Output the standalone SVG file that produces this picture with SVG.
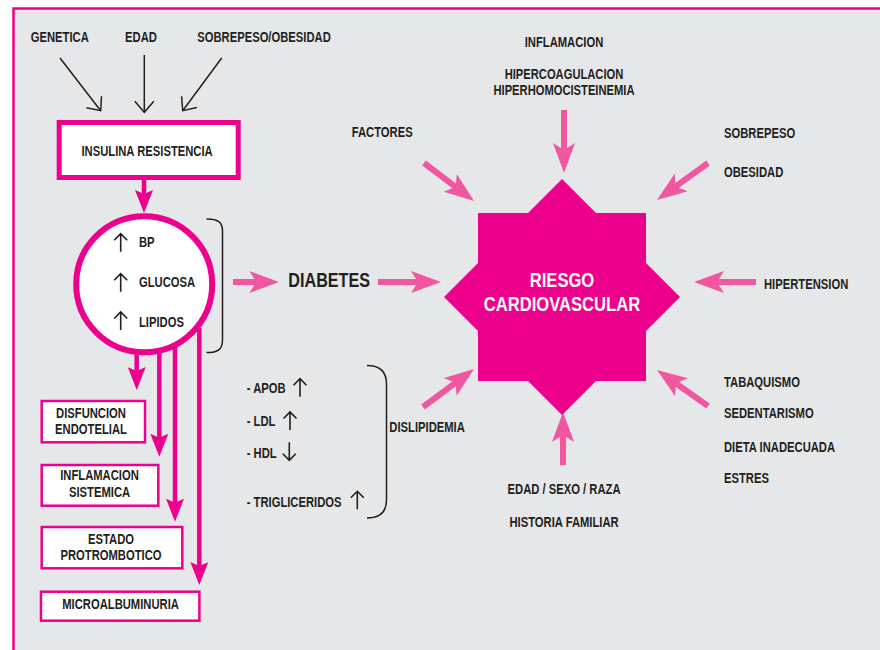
<svg xmlns="http://www.w3.org/2000/svg" width="880" height="650" viewBox="0 0 880 650">
<defs>
<style>
text{font-family:"Liberation Sans Narrow","Arial Narrow","Liberation Sans",sans-serif;font-weight:bold;font-size:14.5px;fill:#231f20;transform-box:fill-box;transform-origin:0% 50%;transform:scaleX(0.775)}
.c{text-anchor:middle;transform-origin:50% 50%}
.s{font-size:14px;transform:scaleX(0.8)}
.big{font-size:19.5px;transform:scaleX(0.83)}
.w{fill:#ffffff;font-size:20px;transform:scaleX(0.83)}
.box{fill:#ffffff;stroke:#ec008c;stroke-width:2.5}
.pk{stroke:#f0579f;stroke-width:6;fill:none}
.mg{stroke:#ec008c;stroke-width:4.5;fill:none}
.bk{stroke:#231f20;stroke-width:1.5;fill:none}
.gl{stroke:#231f20;stroke-width:1.6;fill:none}
</style>
<marker id="hp" markerUnits="userSpaceOnUse" markerWidth="30" markerHeight="22" viewBox="-30 -11 30 22" refX="-22" refY="0" orient="auto"><path d="M0,0 L-30,-11 L-23,0 L-30,11 Z" fill="#f0579f"/></marker>
<marker id="hm" markerUnits="userSpaceOnUse" markerWidth="23" markerHeight="18" viewBox="-23 -9 23 18" refX="-17" refY="0" orient="auto"><path d="M0,0 L-23,-9 L-19,0 L-23,9 Z" fill="#ec008c"/></marker>
<marker id="hb" markerUnits="userSpaceOnUse" markerWidth="14" markerHeight="22" viewBox="-13 -11 14 22" refX="0" refY="0" orient="auto" overflow="visible"><path d="M-11,-9.5 L0,0 L-11,9.5" fill="none" stroke="#231f20" stroke-width="1.5"/></marker>
<path id="up" d="M0,0 V-18 M-6.5,-11.5 L0,-18 L6.5,-11.5" class="gl"/>
<path id="dn" d="M0,0 V18 M-6.5,11.5 L0,18 L6.5,11.5" class="gl"/>
</defs>
<rect x="0" y="0" width="880" height="650" fill="#ffffff"/>
<rect id="frame" x="13.5" y="8.5" width="900" height="700" fill="#e6e7e9" stroke="#ec008c" stroke-width="2.5"/>

<g id="connectors">
<line class="bk" x1="60" y1="58" x2="100.7" y2="110.7" marker-end="url(#hb)"/>
<line class="bk" x1="144.3" y1="55" x2="144.3" y2="112.3" marker-end="url(#hb)"/>
<line class="bk" x1="221.7" y1="58" x2="182.7" y2="110.7" marker-end="url(#hb)"/>
<line class="mg" x1="144" y1="180" x2="144" y2="196" marker-end="url(#hm)"/>
<line class="mg" x1="136.7" y1="352" x2="136.7" y2="373" marker-end="url(#hm)"/>
<line class="mg" x1="159.3" y1="352" x2="159.3" y2="439.7" marker-end="url(#hm)"/>
<line class="mg" x1="175" y1="347" x2="175" y2="504.7" marker-end="url(#hm)"/>
<line class="mg" x1="199.3" y1="328" x2="199.3" y2="568" marker-end="url(#hm)"/>
<line class="pk" x1="233" y1="282" x2="257.3" y2="282" marker-end="url(#hp)"/>
<line class="pk" x1="378" y1="282" x2="419" y2="282" marker-end="url(#hp)"/>
<line class="pk" x1="564" y1="110" x2="564" y2="151" marker-end="url(#hp)"/>
<line class="pk" x1="424" y1="163" x2="456.5" y2="187.7" marker-end="url(#hp)"/>
<line class="pk" x1="708" y1="163" x2="674.8" y2="187.1" marker-end="url(#hp)"/>
<line class="pk" x1="756" y1="282" x2="716" y2="282" marker-end="url(#hp)"/>
<line class="pk" x1="708" y1="406" x2="675" y2="382.7" marker-end="url(#hp)"/>
<line class="pk" x1="563" y1="465" x2="563" y2="434" marker-end="url(#hp)"/>
<line class="pk" x1="423" y1="407" x2="456.4" y2="382.1" marker-end="url(#hp)"/>
</g>

<g id="factors-top">
<text class="c" x="59.7" y="42.3">GENETICA</text>
<text class="c" x="141" y="42.3">EDAD</text>
<text class="c" x="264" y="42.3">SOBREPESO/OBESIDAD</text>
</g>

<g id="insulina">
<rect x="59.2" y="122.5" width="179" height="55" fill="#ffffff" stroke="#ec008c" stroke-width="5"/>
<text class="c" x="147" y="155.7">INSULINA RESISTENCIA</text>
</g>

<g id="sindrome">
<circle cx="144.2" cy="284.2" r="68" fill="#ffffff" stroke="#ec008c" stroke-width="6"/>
<use href="#up" x="120.7" y="251.7"/>
<text x="139" y="246.7">BP</text>
<use href="#up" x="120.7" y="291.7"/>
<text x="139" y="286.7">GLUCOSA</text>
<use href="#up" x="120.7" y="330"/>
<text x="139" y="326.7">LIPIDOS</text>
<path class="bk" d="M206.5,219 C218,219 222.5,222 222.5,231 L222.5,340 C222.5,349.5 218,352.5 206.5,352.5"/>
</g>

<g id="diabetes">
<text class="big" x="288.3" y="287.3">DIABETES</text>
</g>

<g id="disfuncion">
<rect class="box" x="41.7" y="401" width="103.3" height="41.3"/>
<text class="c" x="91" y="417.7">DISFUNCION</text>
<text class="c" x="91" y="434.3">ENDOTELIAL</text>
</g>
<g id="inflamacion-sistemica">
<rect class="box" x="41.7" y="465" width="116.6" height="40.7"/>
<text class="c" x="99.5" y="480">INFLAMACION</text>
<text class="c" x="99.5" y="496.7">SISTEMICA</text>
</g>
<g id="protrombotico">
<rect class="box" x="41.7" y="527" width="140.6" height="41.3"/>
<text class="c" x="111" y="544">ESTADO</text>
<text class="c" x="111" y="560">PROTROMBOTICO</text>
</g>
<g id="microalbuminuria">
<rect class="box" x="41" y="591.7" width="158.4" height="29"/>
<text class="c" x="120.5" y="609.3">MICROALBUMINURIA</text>
</g>

<g id="dislipidemia">
<text x="246.7" y="393.3">- APOB</text>
<use href="#up" x="300" y="396.7"/>
<text x="246.7" y="426">- LDL</text>
<use href="#up" x="290" y="430"/>
<text x="246.7" y="458.3">- HDL</text>
<use href="#dn" x="289.3" y="442.3"/>
<text x="246.7" y="507.3">- TRIGLICERIDOS</text>
<use href="#up" x="357.3" y="509.3"/>
<path class="bk" d="M367,365.5 C380,365.5 386.5,371 386.5,384 L386.5,500 C386.5,512.5 380,518 367,518"/>
<text x="389.3" y="432.3">DISLIPIDEMIA</text>
</g>

<g id="riesgo">
<polygon fill="#ec008c" points="562,179 596,213 646,213 646,263 680,297 646,331 646,381 596,381 562,415 528,381 478,381 478,331 444,297 478,263 478,213 528,213"/>
<text class="w c" x="562" y="287">RIESGO</text>
<text class="w c" x="562" y="311">CARDIOVASCULAR</text>
</g>

<g id="factores">
<text class="c" x="564" y="46.7">INFLAMACION</text>
<text class="c s" x="564" y="79.5">HIPERCOAGULACION</text>
<text class="c s" x="564" y="95.5">HIPERHOMOCISTEINEMIA</text>
<text x="351.7" y="137.3">FACTORES</text>
<text x="724" y="138.3">SOBREPESO</text>
<text x="724" y="176.7">OBESIDAD</text>
<text x="764" y="289">HIPERTENSION</text>
<text x="724" y="386.7">TABAQUISMO</text>
<text x="724" y="418.3">SEDENTARISMO</text>
<text x="724" y="451.7">DIETA INADECUADA</text>
<text x="724" y="483.3">ESTRES</text>
<text class="c" x="564" y="494">EDAD / SEXO / RAZA</text>
<text class="c" x="564" y="526.7">HISTORIA FAMILIAR</text>
</g>
</svg>
